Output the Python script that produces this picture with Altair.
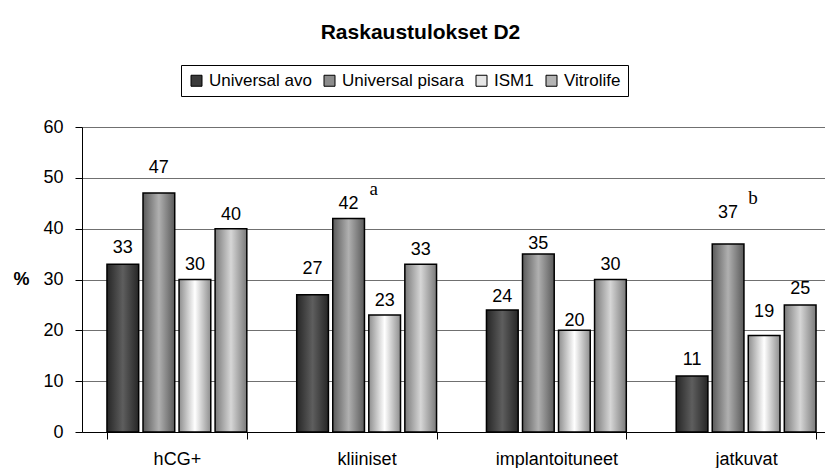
import altair as alt
import pandas as pd

# ---- data ----
categories = ["hCG+", "kliiniset", "implantoituneet", "jatkuvat"]
series = ["Universal avo", "Universal pisara", "ISM1", "Vitrolife"]

avo = [33, 27, 24, 11]
pisara = [47, 42, 35, 37]
ism1 = [30, 23, 20, 19]
vitrolife = [40, 33, 30, 25]

# heights (in %) where the value labels sit, as placed in the reference
avo_label = [35.2, 31.1, 25.6, 13.2]
pisara_label = [50.9, 43.8, 36.0, 42.1]
ism1_label = [31.8, 24.8, 20.8, 22.7]
vitrolife_label = [41.8, 34.8, 31.8, 27.2]

# significance notes
pisara_notes = ["", "a", "", "b"]

all_values = [avo, pisara, ism1, vitrolife]
all_labels = [avo_label, pisara_label, ism1_label, vitrolife_label]
all_notes = [["", "", "", ""], pisara_notes, ["", "", "", ""], ["", "", "", ""]]

rows = []
for s, vals, labs, nts in zip(series, all_values, all_labels, all_notes):
    for c, v, l, n in zip(categories, vals, labs, nts):
        rows.append({"cat": c, "series": s, "value": v, "label_y": l, "note": n})
df = pd.DataFrame(rows)

FONT = "Liberation Sans"
solid = ["#3a3a3a", "#8c8c8c", "#e6e6e6", "#b4b4b4"]
grad_stops = {
    "Universal avo": ("#262626", "#5e5e5e"),
    "Universal pisara": ("#5a5a5a", "#b0b0b0"),
    "ISM1": ("#8e8e8e", "#ffffff"),
    "Vitrolife": ("#7a7a7a", "#d6d6d6"),
}

x_enc = alt.X(
    "cat:N",
    sort=categories,
    scale=alt.Scale(domain=categories, range=[0, 759], paddingInner=0.263, paddingOuter=0.1316),
    axis=alt.Axis(
        title=None, labelAngle=0, labelFontSize=18, labelFont=FONT, labelColor="black",
        domainColor="black", tickColor="black", tickSize=7, tickBand="extent",
        labelPadding=11, grid=False,
    ),
)
xo_enc = alt.XOffset("series:N", sort=series,
                     scale=alt.Scale(domain=series, paddingInner=0.12, paddingOuter=0))
y_enc = alt.Y(
    "value:Q",
    scale=alt.Scale(domain=[0, 60], nice=False, zero=True),
    axis=alt.Axis(
        values=[0, 10, 20, 30, 40, 50, 60], title="%", titleAngle=0, titleX=-61, titleY=152,
        titleAlign="center", titleBaseline="middle", titleFontSize=18, titleFont=FONT,
        titleFontWeight="bold", titleColor="black",
        labelFontSize=18, labelFont=FONT, labelColor="black", labelPadding=12,
        domainColor="black", tickColor="black", tickSize=7,
        grid=True, gridColor="#707070", gridWidth=1,
    ),
)

base = alt.Chart(df)

bars = base.mark_bar(strokeWidth=0).encode(
    x=x_enc,
    xOffset=xo_enc,
    y=y_enc,
    color=alt.Color(
        "series:N", sort=series,
        scale=alt.Scale(domain=series, range=solid),
        legend=alt.Legend(
            title=None, orient="none", legendX=99, legendY=-62, direction="horizontal",
            columns=4, symbolType="square", symbolSize=121, symbolStrokeColor="black",
            symbolStrokeWidth=1, symbolOpacity=1, labelFontSize=17, labelFont=FONT,
            labelColor="black", strokeColor="black", padding=7, columnPadding=9,
            labelOffset=4, fillColor="white",
        ),
    ),
)

layers = [bars]
for s in series:
    dark, light = grad_stops[s]
    g = alt.Gradient(
        gradient="linear",
        stops=[
            alt.GradientStop(color=dark, offset=0),
            alt.GradientStop(color=light, offset=0.5),
            alt.GradientStop(color=dark, offset=1),
        ],
        x1=0, x2=1, y1=0, y2=0,
    )
    layers.append(
        base.transform_filter(alt.datum.series == s)
        .mark_bar(color=g, stroke="black", strokeWidth=1.5)
        .encode(x=x_enc, xOffset=xo_enc, y=y_enc)
    )

labels = base.mark_text(baseline="alphabetic", fontSize=18, font=FONT, color="black").encode(
    x=x_enc, xOffset=xo_enc, y=alt.Y("label_y:Q"), text=alt.Text("value:Q")
)
notes_layer = base.transform_filter(alt.datum.note != "").mark_text(
    baseline="alphabetic", fontSize=19, font="Liberation Serif", color="black", dx=25, dy=-14
).encode(x=x_enc, xOffset=xo_enc, y=alt.Y("label_y:Q"), text="note:N")

layers += [labels, notes_layer]

chart = alt.layer(*layers).properties(
    width=743,
    height=305,
    title=alt.TitleParams(
        "Raskaustulokset D2", fontSize=21, fontWeight="bold", font=FONT, color="black",
        anchor="middle", dx=-33, offset=22,
    ),
    autosize=alt.AutoSizeParams(type="none"),
    padding={"left": 74, "top": 119, "right": 0, "bottom": 36},
).configure_view(stroke=None).configure(background="white")

chart.save("out.html", embed_options={"renderer": "svg", "actions": False})
